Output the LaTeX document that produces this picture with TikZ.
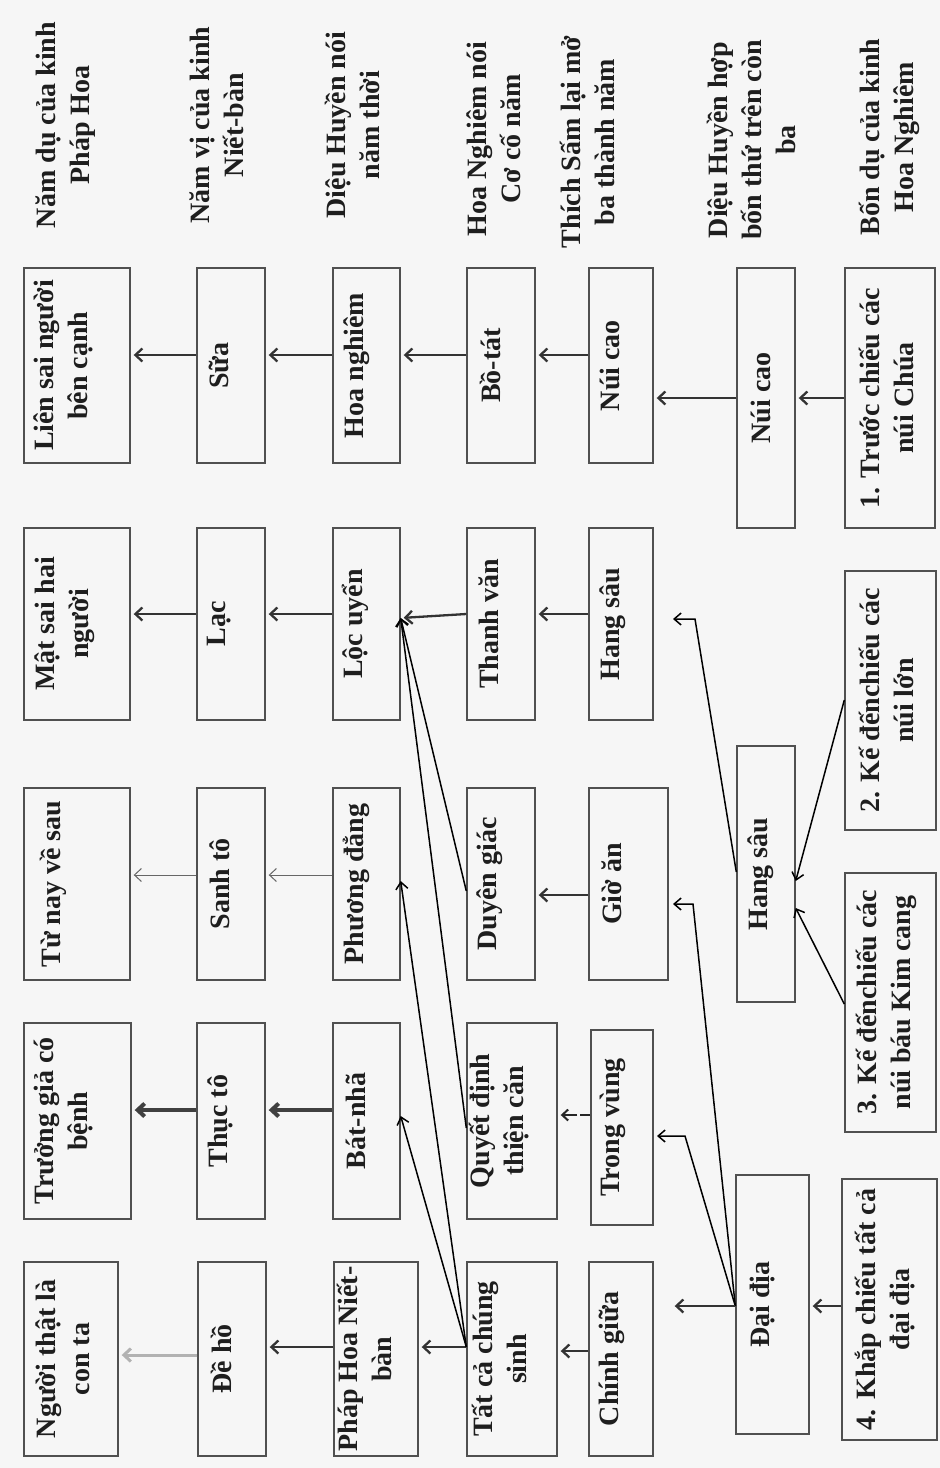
\documentclass[tikz,border=0pt]{standalone}
\usepackage{fontspec}
\setmainfont{Liberation Serif}
\usetikzlibrary{arrows.meta,calc}
\definecolor{bg}{HTML}{F6F6F6}
\definecolor{ink}{HTML}{1E1E1E}
\definecolor{edge}{HTML}{505050}
\begin{document}
\begin{tikzpicture}[x=1pt,y=-1pt,
  box/.style={draw=edge, line width=1.4pt, inner sep=0pt, rectangle},
  txt/.style={rotate=90, align=center, font=\fontsize{28}{34}\selectfont\bfseries, text=ink, inner sep=0pt},
  arr/.style={-{Straight Barb[length=7pt,width=13pt]}, line width=2.3pt, draw=black!80, shorten >=3pt},
  thinarr/.style={-{Straight Barb[length=7pt,width=13pt]}, line width=1pt, draw=black!60, shorten >=3pt},
  thickarr/.style={-{Straight Barb[length=7pt,width=13pt]}, line width=4pt, draw=black!75, shorten >=3pt},
  greyarr/.style={-{Straight Barb[length=7pt,width=13pt]}, line width=3pt, draw=black!30, shorten >=3pt},
  diag/.style={-{Straight Barb[length=7pt,width=12pt]}, line width=1.5pt, draw=black},
  dasharr/.style={-{Straight Barb[length=6pt,width=11pt]}, line width=2pt, draw=black!85, dash pattern=on 10pt off 3pt on 40pt off 0pt}
]
\fill[bg] (0,0) rectangle (940,1468);
\useasboundingbox (0,0) rectangle (940,1468);

% headers
\node[txt] (h1) at (66,125) {Năm dụ của kinh\\Pháp Hoa};
\node[txt] (h2) at (217,125) {Năm vị của kinh\\Niết-bàn};
\node[txt] (h3) at (352,125) {Diệu Huyền nói\\năm thời};
\node[txt] (h4) at (494,139) {Hoa Nghiêm nói\\Cơ cố năm};
\node[txt] (h5) at (587,142) {Thích Sấm lại mở\\ba thành năm};
\node[txt] (h6) at (751,140) {Diệu Huyền hợp\\bốn thứ trên còn\\ba};
\node[txt] (h7) at (889,137) {Bốn dụ của kinh\\Hoa Nghiêm};

% column 1
\node[box, minimum width=106pt, minimum height=195pt] (lien) at (77,365.5) {};
\node[txt] (lien-t) at ($(lien)+(-14,0)$) {Liên sai người\\bên cạnh};
\node[box, minimum width=106pt, minimum height=192pt] (mat) at (77,624) {};
\node[txt] (mat-t) at ($(mat)+(-12,0)$) {Mật sai hai\\người};
\node[box, minimum width=106pt, minimum height=192pt] (tunay) at (77,884) {};
\node[txt] (tunay-t) at ($(tunay)+(-24,0)$) {Từ nay về sau};
\node[box, minimum width=107pt, minimum height=196pt] (truong) at (77.5,1121) {};
\node[txt] (truong-t) at ($(truong)+(-14,0)$) {Trưởng giả có\\bệnh};
\node[box, minimum width=94pt, minimum height=194pt] (nguoi) at (71,1359) {};
\node[txt] (nguoi-t) at ($(nguoi)+(-8,0)$) {Người thật là\\con ta};

% column 2
\node[box, minimum width=68pt, minimum height=195pt] (sua) at (231,365.5) {};
\node[txt] (sua-t) at ($(sua)+(-12,0)$) {Sữa};
\node[box, minimum width=68pt, minimum height=192pt] (lac) at (231,624) {};
\node[txt] (lac-t) at ($(lac)+(-12,0)$) {Lạc};
\node[box, minimum width=68pt, minimum height=192pt] (sanhto) at (231,884) {};
\node[txt] (sanhto-t) at ($(sanhto)+(-11,0)$) {Sanh tô};
\node[box, minimum width=68pt, minimum height=196pt] (thucto) at (231,1121) {};
\node[txt] (thucto-t) at ($(thucto)+(-11,0)$) {Thục tô};
\node[box, minimum width=68pt, minimum height=194pt] (deho) at (232,1359) {};
\node[txt] (deho-t) at ($(deho)+(-11,0)$) {Đề hồ};

% column 3
\node[box, minimum width=67pt, minimum height=195pt] (hoanghiem) at (366.5,365.5) {};
\node[txt] (hoanghiem-t) at ($(hoanghiem)+(-10,0)$) {Hoa nghiêm};
\node[box, minimum width=67pt, minimum height=192pt] (locuyen) at (366.5,624) {};
\node[txt] (locuyen-t) at ($(locuyen)+(-11,0)$) {Lộc uyển};
\node[box, minimum width=67pt, minimum height=192pt] (phuongdang) at (366.5,884) {};
\node[txt] (phuongdang-t) at ($(phuongdang)+(-10,0)$) {Phương đẳng};
\node[box, minimum width=67pt, minimum height=196pt] (batnha) at (366.5,1121) {};
\node[txt] (batnha-t) at ($(batnha)+(-11,0)$) {Bát-nhã};
\node[box, minimum width=84pt, minimum height=194pt] (phaphoa) at (376,1359) {};
\node[txt] (phaphoa-t) at ($(phaphoa)+(-12,0)$) {Pháp Hoa Niết-\\bàn};

% column 4
\node[box, minimum width=68pt, minimum height=195pt] (bota) at (501,365.5) {};
\node[txt] (bota-t) at ($(bota)+(-11,0)$) {Bồ-tát};
\node[box, minimum width=68pt, minimum height=192pt] (thanhvan) at (501,624) {};
\node[txt] (thanhvan-t) at ($(thanhvan)+(-12,0)$) {Thanh văn};
\node[box, minimum width=68pt, minimum height=192pt] (duyengiac) at (501,884) {};
\node[txt] (duyengiac-t) at ($(duyengiac)+(-11,0)$) {Duyên giác};
\node[box, minimum width=90pt, minimum height=196pt] (quyetdinh) at (512,1121) {};
\node[txt] (quyetdinh-t) at ($(quyetdinh)+(-13,0)$) {Quyết định\\thiện căn};
\node[box, minimum width=90pt, minimum height=194pt] (tatca) at (512,1359) {};
\node[txt] (tatca-t) at ($(tatca)+(-13,0)$) {Tất cả chúng\\sinh};

% column 5
\node[box, minimum width=64pt, minimum height=195pt] (nuicao5) at (621,365.5) {};
\node[txt] (nuicao5-t) at ($(nuicao5)+(-11,0)$) {Núi cao};
\node[box, minimum width=64pt, minimum height=192pt] (hangsau5) at (621,624) {};
\node[txt] (hangsau5-t) at ($(hangsau5)+(-8,0)$) {Hang sâu};
\node[box, minimum width=79pt, minimum height=192pt] (gioan) at (628.5,884) {};
\node[txt] (gioan-t) at ($(gioan)+(-17,0)$) {Giờ ăn};
\node[box, minimum width=62pt, minimum height=195pt] (trongvung) at (622,1127.5) {};
\node[txt] (trongvung-t) at ($(trongvung)+(-9,0)$) {Trong vùng};
\node[box, minimum width=64pt, minimum height=194pt] (chinhgiua) at (621,1359) {};
\node[txt] (chinhgiua-t) at ($(chinhgiua)+(-9,0)$) {Chính giữa};

% column 6
\node[box, minimum width=58pt, minimum height=260pt] (nuicao6) at (766,398) {};
\node[txt] (nuicao6-t) at ($(nuicao6)+(-5,0)$) {Núi cao};
\node[box, minimum width=58pt, minimum height=256pt] (hangsau6) at (766,874) {};
\node[txt] (hangsau6-t) at ($(hangsau6)+(-5,0)$) {Hang sâu};
\node[box, minimum width=73pt, minimum height=259pt] (daidia) at (772.5,1304.5) {};
\node[txt] (daidia-t) at ($(daidia)+(-10,0)$) {Đại địa};

% column 7
\node[box, minimum width=90pt, minimum height=260pt] (b1) at (890,398) {};
\node[txt] (b1-t) at ($(b1)+(-4,0)$) {1. Trước chiếu các\\núi Chúa};
\node[box, minimum width=91pt, minimum height=259pt] (b2) at (890.5,700.5) {};
\node[txt] (b2-t) at ($(b2)+(-4,0)$) {2. Kế đếnchiếu các\\núi lớn};
\node[box, minimum width=91pt, minimum height=259pt] (b3) at (890.5,1002.5) {};
\node[txt] (b3-t) at ($(b3)+(-4,0)$) {3. Kế đếnchiếu các\\núi báu Kim cang};
\node[box, minimum width=95pt, minimum height=261pt] (b4) at (889.5,1309.5) {};
\node[txt] (b4-t) at ($(b4)+(-4,0)$) {4. Khắp chiếu tất cả\\đại địa};

% levels and corners
\coordinate (r1) at (0,355);
\coordinate (r1b) at (0,398);
\coordinate (r2) at (0,614);
\coordinate (r3) at (0,875);
\coordinate (r3b) at (0,895);
\coordinate (r3c) at (0,891);
\coordinate (r4) at (0,1110);
\coordinate (r4b) at (0,1115);
\coordinate (r4c) at (0,1128);
\coordinate (r5) at (0,1347);
\coordinate (r5b) at (0,1351);
\coordinate (r5c) at (0,1355);
\coordinate (r5d) at (0,1306);
\coordinate (hs6o) at (0,872);
\coordinate (k1) at (695,619);
\coordinate (tip1) at (673,619);
\coordinate (k2) at (693,904);
\coordinate (tip2) at (673,904);
\coordinate (k3) at (685,1136);
\coordinate (tip3) at (657,1136);
\coordinate (b2o) at (0,700);
\coordinate (b3o) at (0,1004);
\coordinate (hs6a) at (0,881);
\coordinate (hs6b) at (0,908);
\coordinate (lut) at (0,618);
\coordinate (pdt) at (0,881);
\coordinate (bnt) at (0,1116);

% row 1
\draw[arr] (sua.west |- r1) -- (lien.east |- r1);
\draw[arr] (hoanghiem.west |- r1) -- (sua.east |- r1);
\draw[arr] (bota.west |- r1) -- (hoanghiem.east |- r1);
\draw[arr] (nuicao5.west |- r1) -- (bota.east |- r1);
\draw[arr] (nuicao6.west |- r1b) -- (nuicao5.east |- r1b);
\draw[arr] (b1.west |- r1b) -- (nuicao6.east |- r1b);

% row 2
\draw[arr] (lac.west |- r2) -- (mat.east |- r2);
\draw[arr] (locuyen.west |- r2) -- (lac.east |- r2);
\draw[arr] (thanhvan.west |- r2) -- (locuyen.east |- lut);
\draw[arr] (hangsau5.west |- r2) -- (thanhvan.east |- r2);
\draw[diag] (hangsau6.west |- hs6o) -- (k1) -- (tip1);
\draw[diag] (b2.west |- b2o) -- (hangsau6.east |- hs6a);
\draw[diag] (b3.west |- b3o) -- (hangsau6.east |- hs6b);

% row 3
\draw[thinarr] (sanhto.west |- r3) -- (tunay.east |- r3);
\draw[thinarr] (phuongdang.west |- r3) -- (sanhto.east |- r3);
\draw[arr] (gioan.west |- r3b) -- (duyengiac.east |- r3b);
\draw[diag] (duyengiac.west |- r3c) -- (locuyen.east |- lut);
\draw[diag] (daidia.west |- r5d) -- (k2) -- (tip2);

% row 4
\draw[thickarr] (thucto.west |- r4) -- (truong.east |- r4);
\draw[thickarr] (batnha.west |- r4) -- (thucto.east |- r4);
\draw[dasharr] (trongvung.west |- r4b) -- ([xshift=3pt]quyetdinh.east |- r4b);
\draw[diag] (quyetdinh.west |- r4c) -- (locuyen.east |- lut);
\draw[diag] (daidia.west |- r5d) -- (k3) -- (tip3);

% row 5
\draw[greyarr] (deho.west |- r5c) -- (nguoi.east |- r5c);
\draw[arr] (phaphoa.west |- r5) -- (deho.east |- r5);
\draw[arr] (tatca.west |- r5) -- (phaphoa.east |- r5);
\draw[diag] (tatca.west |- r5) -- (phuongdang.east |- pdt);
\draw[diag] (tatca.west |- r5) -- (batnha.east |- bnt);
\draw[arr] (chinhgiua.west |- r5b) -- (tatca.east |- r5b);
\draw[arr] (daidia.west |- r5d) -- ([xshift=18pt]chinhgiua.east |- r5d);
\draw[arr] (b4.west |- r5d) -- (daidia.east |- r5d);
\end{tikzpicture}
\end{document}
